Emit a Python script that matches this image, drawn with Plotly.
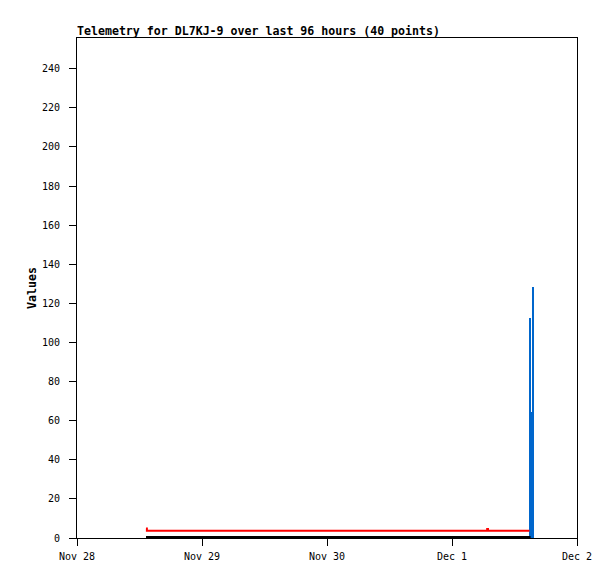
import plotly.graph_objects as go

title = "Telemetry for DL7KJ-9 over last 96 hours (40 points)"
y_title = "Values"

x_ticks = ["2023-11-28", "2023-11-29", "2023-11-30", "2023-12-01", "2023-12-02"]
x_tick_labels = ["Nov 28", "Nov 29", "Nov 30", "Dec 1", "Dec 2"]
y_ticks = [0, 20, 40, 60, 80, 100, 120, 140, 160, 180, 200, 220, 240]

red_times = ["2023-11-28 13:15", "2023-11-28 13:25", "2023-12-01 06:35",
             "2023-12-01 06:45", "2023-12-01 06:55", "2023-12-01 14:52"]
red_values = [4.9, 3.7, 3.7, 4.6, 3.7, 3.7]

black_times = ["2023-11-28 13:15", "2023-12-01 15:05"]
black_values = [0.3, 0.3]

blue_times = ["2023-12-01 14:59", "2023-12-01 15:16", "2023-12-01 15:33"]
blue_values = [112.5, 64.6, 128.4]
blue_widths_ms = [1.38e6, 0.69e6, 1.38e6]

font_mono = "DejaVu Sans Mono, Liberation Mono, monospace"

# the page body adds an 8px offset; margins compensate for it
L, T, R, B = 69, 30, 46, 49
W, H = 615, 579
plot_w = W - L - R

fig = go.Figure()
fig.add_trace(go.Bar(x=blue_times, y=blue_values, width=blue_widths_ms,
                     marker=dict(color="#0066cc", line=dict(width=0)),
                     showlegend=False))
fig.add_trace(go.Scatter(x=black_times, y=black_values, mode="lines",
                         line=dict(color="black", width=3), showlegend=False))
fig.add_trace(go.Scatter(x=red_times, y=red_values, mode="lines",
                         line=dict(color="#ff0000", width=2, shape="hv"),
                         showlegend=False))

fig.update_layout(
    width=W, height=H,
    margin=dict(l=L, r=R, t=T, b=B, autoexpand=False),
    paper_bgcolor="white", plot_bgcolor="white",
    barmode="overlay", bargap=0,
    font=dict(family=font_mono, size=10, color="black"),
    title=dict(text="<b>" + title + "</b>", x=L / W, xanchor="left",
               xref="container", yref="container",
               y=1 - 23 / H, yanchor="middle",
               font=dict(family=font_mono, size=11.6, color="black")),
    xaxis=dict(range=["2023-11-28", "2023-12-02"], tickvals=x_ticks,
               ticktext=x_tick_labels, ticks="outside", ticklen=7,
               tickcolor="black", showgrid=False, zeroline=False,
               showline=True, linecolor="black", linewidth=1, mirror=True,
               automargin=False, ticklabelstandoff=2,
               tickfont=dict(family=font_mono, size=10)),
    yaxis=dict(range=[0, 255.7], tickvals=y_ticks, ticks="outside", ticklen=7,
               tickcolor="black", showgrid=False, zeroline=False,
               showline=True, linecolor="black", linewidth=1, mirror=True,
               automargin=False, ticklabelstandoff=7,
               tickfont=dict(family=font_mono, size=10)),
    annotations=[dict(text="<b>" + y_title + "</b>", textangle=-90,
                      xref="paper", yref="paper",
                      x=(24 - L) / plot_w, y=0.5,
                      xanchor="center", yanchor="middle", showarrow=False,
                      font=dict(family=font_mono, size=11.6, color="black"))],
)

fig.write_html("out.html")
